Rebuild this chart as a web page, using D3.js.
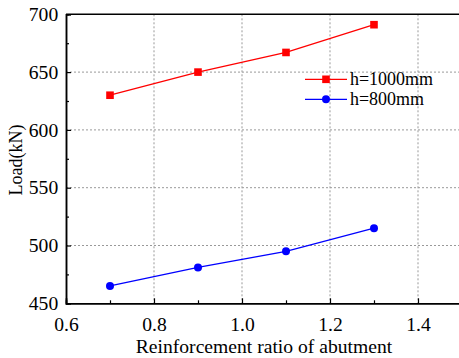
<!DOCTYPE html>
<html>
<head>
<meta charset="utf-8">
<script src="https://cdn.jsdelivr.net/npm/d3@7"></script>
<style>
  body { margin: 0; background: #fff; }
  svg { display: block; }
  text { font-family: "Liberation Serif", "Times New Roman", serif; fill: #000; }
  .wide { transform-box: fill-box; transform-origin: center; transform: scaleX(1.09); }
</style>
</head>
<body>
<div id="chart"></div>
<script>
  // data
  var ratios = [0.7, 0.9, 1.1, 1.3];
  var load1000 = [630, 650, 667, 691];
  var load800 = [465, 481, 495, 515];
  var seriesNames = ["h=1000mm", "h=800mm"];
  var xTicks = [0.6, 0.8, 1.0, 1.2, 1.4];
  var yTicks = [450, 500, 550, 600, 650, 700];

  var width = 459, height = 358;
  var mLeft = 66, mTop = 14.3, mRight = 462, mBottom = 303.3;

  var svg = d3.select("#chart").append("svg")
    .attr("width", width)
    .attr("height", height);

  var x = d3.scaleLinear().domain([0.6, 1.5]).range([mLeft, mRight]);
  var y = d3.scaleLinear().domain([450, 700]).range([mBottom, mTop]);

  // grid
  svg.append("g").selectAll("line").data(xTicks.slice(1))
    .enter().append("line")
    .attr("x1", function(d) { return x(d); }).attr("x2", function(d) { return x(d); })
    .attr("y1", mTop).attr("y2", mBottom)
    .attr("stroke", "#999").attr("stroke-width", 1).attr("stroke-dasharray", "2,2");
  svg.append("g").selectAll("line").data(yTicks.slice(1, -1))
    .enter().append("line")
    .attr("x1", mLeft).attr("x2", width)
    .attr("y1", function(d) { return y(d); }).attr("y2", function(d) { return y(d); })
    .attr("stroke", "#999").attr("stroke-width", 1).attr("stroke-dasharray", "2,2");

  // axes (ticks inside)
  var xAxis = svg.append("g").attr("transform", "translate(0," + mBottom + ")")
    .call(d3.axisBottom(x).tickValues(xTicks).tickSize(-5).tickPadding(12)
      .tickFormat(d3.format(".1f")));
  svg.append("g").attr("transform", "translate(0," + mBottom + ")")
    .call(d3.axisBottom(x).tickValues([0.7, 0.9, 1.1, 1.3]).tickSize(-3).tickFormat(""));

  var yAxis = svg.append("g").attr("transform", "translate(" + mLeft + ",0)")
    .call(d3.axisLeft(y).tickValues(yTicks).tickSize(-5).tickPadding(9));
  svg.append("g").attr("transform", "translate(" + mLeft + ",0)")
    .call(d3.axisLeft(y).tickValues([475, 525, 575, 625, 675]).tickSize(-3).tickFormat(""));

  svg.selectAll(".domain").attr("stroke", "#000").attr("stroke-width", 1.5);
  svg.selectAll(".tick line").attr("stroke", "#000").attr("stroke-width", 1.2);
  svg.selectAll(".tick text").attr("font-family", "Liberation Serif")
    .attr("font-size", 18).attr("fill", "#000").classed("wide", true);
  xAxis.selectAll(".tick text").attr("dy", "0.9em");
  yAxis.selectAll(".tick text").attr("dy", "0.34em");

  // top frame
  svg.append("line").attr("x1", mLeft).attr("x2", width)
    .attr("y1", mTop).attr("y2", mTop)
    .attr("stroke", "#000").attr("stroke-width", 1.5);

  var line = d3.line()
    .x(function(d) { return x(d[0]); })
    .y(function(d) { return y(d[1]); });

  var red = ratios.map(function(r, i) { return [r, load1000[i]]; });
  var blue = ratios.map(function(r, i) { return [r, load800[i]]; });

  svg.append("path").datum(red).attr("d", line)
    .attr("fill", "none").attr("stroke", "#ff0000").attr("stroke-width", 1.3);
  svg.selectAll(".sq").data(red).enter().append("rect")
    .attr("x", function(d) { return x(d[0]) - 3.8; })
    .attr("y", function(d) { return y(d[1]) - 3.8; })
    .attr("width", 7.6).attr("height", 7.6).attr("fill", "#ff0000");

  svg.append("path").datum(blue).attr("d", line)
    .attr("fill", "none").attr("stroke", "#0000ff").attr("stroke-width", 1.3);
  svg.selectAll(".dot").data(blue).enter().append("circle")
    .attr("cx", function(d) { return x(d[0]); })
    .attr("cy", function(d) { return y(d[1]); })
    .attr("r", 4).attr("fill", "#0000ff");

  // legend
  var lg = svg.append("g");
  var colors = ["#ff0000", "#0000ff"];
  seriesNames.forEach(function(name, i) {
    var cy = 79.3 + i * 20;
    lg.append("line").attr("x1", 305).attr("x2", 347).attr("y1", cy).attr("y2", cy)
      .attr("stroke", colors[i]).attr("stroke-width", 1.3);
    if (i === 0) {
      lg.append("rect").attr("x", 326 - 3.8).attr("y", cy - 3.8)
        .attr("width", 7.6).attr("height", 7.6).attr("fill", colors[i]);
    } else {
      lg.append("circle").attr("cx", 326).attr("cy", cy).attr("r", 4).attr("fill", colors[i]);
    }
    lg.append("text").attr("x", 350).attr("y", cy).attr("dy", "0.34em")
      .attr("font-size", 18).attr("textLength", 83).attr("lengthAdjust", "spacingAndGlyphs")
      .text(name)
      .attr("textLength", i === 0 ? 83 : 74);
  });

  // axis titles
  svg.append("text").attr("x", 264).attr("y", 353)
    .attr("text-anchor", "middle").attr("font-size", 18).classed("wide", true)
    .text("Reinforcement ratio of abutment");
  svg.append("text")
    .attr("transform", "translate(22,160) rotate(-90)")
    .attr("text-anchor", "middle").attr("font-size", 18)
    .text("Load(kN)");
</script>
</body>
</html>
